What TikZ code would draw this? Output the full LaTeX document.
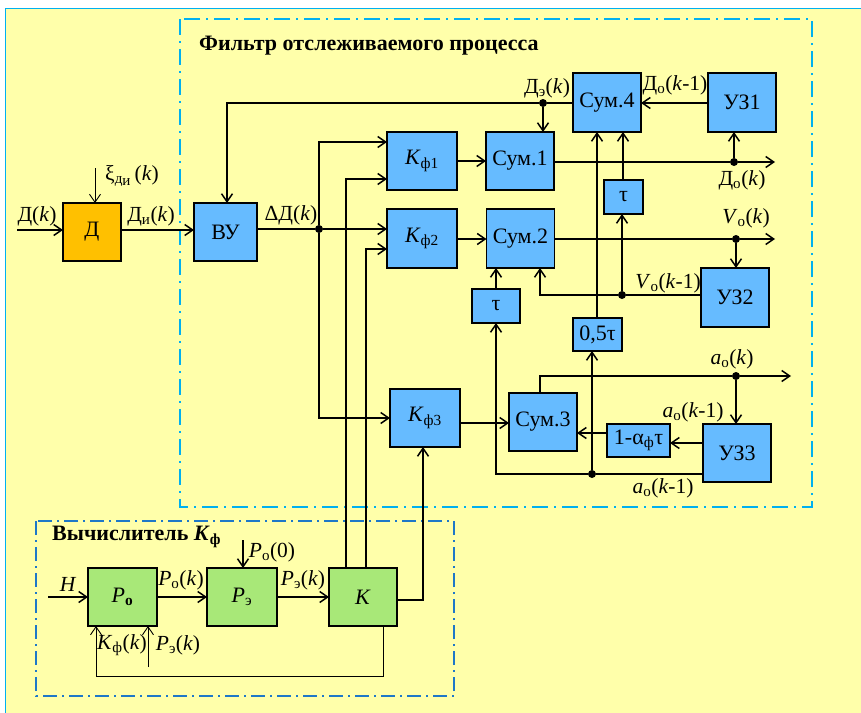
\documentclass[tikz,border=0pt]{standalone}
\usepackage{fontspec}
\setmainfont{Liberation Serif}
\usetikzlibrary{arrows.meta}
\definecolor{bgY}{HTML}{FFFFAA}
\definecolor{blueC}{HTML}{66BBFF}
\definecolor{orangeC}{HTML}{FFC000}
\definecolor{greenC}{HTML}{A8E878}
\definecolor{cyanC}{HTML}{00B0F0}
\definecolor{darkBlueC}{HTML}{1E78C8}
\newcommand{\lsub}[1]{\textsubscript{#1}}
\begin{document}
\begin{tikzpicture}[x=1pt,y=-1pt,
  font=\fontsize{21.5}{25}\selectfont,
  box/.style={draw=black, line width=1.6pt, fill=blueC, inner sep=0pt, outer sep=0pt, font=\fontsize{22}{26}\selectfont},
  wire/.style={line width=1.5pt},
  thinwire/.style={line width=0.9pt},
  arr/.style={-{Straight Barb[length=8pt,width=11pt]}},
  dot/.style={circle, fill=black, inner sep=0pt, minimum size=8pt},
  lbl/.style={inner sep=0pt}
]
\useasboundingbox (0,0) rectangle (861,712);
\fill[white] (0,0) rectangle (861,712);
\fill[bgY] (5,8) rectangle (862,713);
\draw[cyanC, line width=1pt] (5,713) -- (5,8) -- (862,8);

% frames
\draw[cyanC, line width=2pt, dash pattern=on 16pt off 6pt on 2pt off 6pt] (180,19) rectangle (812,507);
\draw[darkBlueC, line width=1.3pt, dash pattern=on 14pt off 5pt on 2pt off 5pt] (36,521) rectangle (454,696);
\node[lbl, anchor=west, font=\fontsize{22}{26}\selectfont\bfseries] (title1) at (199,46) {Фильтр отслеживаемого процесса};
\node[lbl, anchor=west, font=\fontsize{22}{26}\selectfont\bfseries] (title2) at (52,537) {Вычислитель \textit{K}\lsub{ф}};

% blocks
\node[box, fill=orangeC, minimum width=58, minimum height=58] (D) at (92,232) {Д};
\node[box, minimum width=63, minimum height=58] (VU) at (225.5,232) {ВУ};
\node[box, minimum width=70, minimum height=58] (kf1) at (422,161) {\textit{K}\lsub{ф1}};
\node[box, minimum width=70, minimum height=59] (kf2) at (422,238.5) {\textit{K}\lsub{ф2}};
\node[box, minimum width=68, minimum height=58] (s1) at (520,161) {Сум.1};
\node[box, minimum width=68, minimum height=59] (s2) at (520.5,238.5) {Сум.2};
\node[box, minimum width=68, minimum height=59] (s4) at (607,102.5) {Сум.4};
\node[box, minimum width=68, minimum height=59] (uz1) at (742,102.5) {УЗ1};
\node[box, minimum width=39, minimum height=34] (tau1) at (623.5,197) {τ};
\node[box, minimum width=68, minimum height=59] (uz2) at (735,297.5) {УЗ2};
\node[box, minimum width=48, minimum height=34] (tau2) at (496,306) {τ};
\node[box, minimum width=49, minimum height=33] (half) at (597.5,334.5) {0,5τ};
\node[box, minimum width=70, minimum height=58] (kf3) at (425,418) {\textit{K}\lsub{ф3}};
\node[box, minimum width=68, minimum height=58] (s3) at (543,422) {Сум.3};
\node[box, minimum width=68, minimum height=58] (uz3) at (737,453) {УЗ3};
\node[box, minimum width=63, minimum height=33] (af) at (638.5,440.5) {1-α\lsub{ф}τ};
\node[box, fill=greenC, minimum width=69, minimum height=58] (Po) at (122.5,597) {\textit{P}\lsub{\textbf{о}}};
\node[box, fill=greenC, minimum width=70, minimum height=58] (Pe) at (242,597) {\textit{P}\lsub{э}};
\node[box, fill=greenC, minimum width=68, minimum height=58] (K) at (363,597) {\textit{K}};

% junctions
\node[dot] (j1) at (319,229) {};
\node[dot] (j2) at (734,162) {};
\node[dot] (j3) at (736,239) {};
\node[dot] (j4) at (622,295) {};
\node[dot] (j5) at (543,103) {};
\node[dot] (j6) at (736,376) {};
\node[dot] (j7) at (592,474) {};
\coordinate (inD) at (17,230);
\coordinate (xiS) at (95,168);
\coordinate (outS1) at (775,162);
\coordinate (outS2) at (775,239);
\coordinate (outS3) at (791,376);
\coordinate (inH) at (48,597);
\coordinate (inP0) at (243,540);
\coordinate (inPe) at (148,667);

% wires: filter
\draw[wire, arr] (inD) -- (D.west |- 0,230);
\draw[thinwire, arr] (xiS) -- (D.north -| 95,0);
\draw[wire, arr] (D.east |- 0,230) -- (VU.west |- 0,230);
\draw[wire, arr] (VU.east |- 0,229) -- (j1) -- (kf2.west |- 0,229);
\draw[wire, arr] (j1) -- (319,142) -- (kf1.west |- 0,142);
\draw[wire, arr] (j1) -- (319,418) -- (kf3.west);
\draw[wire, arr] (K.north -| 346,0) -- (346,179) -- (kf1.west |- 0,179);
\draw[wire, arr] (K.north -| 366,0) -- (366,249) -- (kf2.west |- 0,249);
\draw[wire, arr] (K.east |- 0,600) -- (423,600) -- (kf3.south -| 423,0);
\draw[wire, arr] (kf1.east) -- (s1.west);
\draw[wire, arr] (kf2.east |- 0,239) -- (s2.west |- 0,239);
\draw[wire, arr] (kf3.east |- 0,423) -- (s3.west |- 0,423);
\draw[wire, arr] (s1.east |- 0,162) -- (j2) -- (outS1);
\draw[wire, arr] (j2) -- (uz1.south -| j2);
\draw[wire, arr] (s2.east |- 0,239) -- (j3) -- (outS2);
\draw[wire, arr] (j3) -- (uz2.north -| j3);
\draw[wire, arr] (uz2.west |- 0,295) -- (j4) -- (540,295) -- (s2.south -| 540,0);
\draw[wire, arr] (j4) -- (tau1.south -| j4);
\draw[wire, arr] (tau1.north -| 623,0) -- (s4.south -| 623,0);
\draw[wire, arr] (half.north -| 597,0) -- (s4.south -| 597,0);
\draw[wire, arr] (s4.west |- 0,103) -- (j5) -- (227,103) -- (VU.north -| 227,0);
\draw[wire, arr] (j5) -- (s1.north -| j5);
\draw[wire, arr] (uz1.west |- 0,103) -- (s4.east |- 0,103);
\draw[wire, arr] (s3.north -| 540,0) -- (540,376) -- (j6) -- (outS3);
\draw[wire, arr] (j6) -- (uz3.north -| j6);
\draw[wire, arr] (uz3.west |- 0,443) -- (af.east |- 0,443);
\draw[wire, arr] (af.west |- 0,433) -- (s3.east |- 0,433);
\draw[wire, arr] (uz3.west |- 0,474) -- (j7) -- (496,474) -- (tau2.south);
\draw[wire, arr] (j7) -- (half.south -| j7);
\draw[wire, arr] (tau2.north) -- (s2.south -| tau2.north);

% wires: calculator
\draw[wire, arr] (inH) -- (Po.west);
\draw[wire, arr] (Po.east) -- (Pe.west);
\draw[wire, arr] (Pe.east) -- (K.west);
\draw[wire, arr] (inP0) -- (Pe.north -| inP0);
\draw[thinwire, arr] (K.south -| 383,0) -- (383,676) -- (96,676) -- (Po.south -| 96,0);
\draw[thinwire, arr] (inPe) -- (Po.south -| inPe);

% labels
\node[lbl] (lDk) at (37,216) {Д(\textit{k})};
\node[lbl] (lxi) at (132,176) {ξ\lsub{д\raisebox{-0.3ex}{и}}\,(\textit{k})};
\node[lbl] (lDi) at (151,216) {Д\lsub{и}(\textit{k})};
\node[lbl] (ldD) at (291,215) {ΔД(\textit{k})};
\node[lbl] (lDe) at (547,88) {Д\lsub{э}(\textit{k})};
\node[lbl] (lDo1) at (675,85) {Д\lsub{о}(\textit{k}-1)};
\node[lbl] (lDo) at (742,180) {Д\lsub{о}(\textit{k})};
\node[lbl] (lVo) at (746,218) {\textit{V}\lsub{о}(\textit{k})};
\node[lbl] (lVo1) at (668,283) {\textit{V}\lsub{о}(\textit{k}-1)};
\node[lbl] (lao) at (732,359) {\textit{a}\lsub{о}(\textit{k})};
\node[lbl] (lao1) at (693,412) {\textit{a}\lsub{о}(\textit{k}-1)};
\node[lbl] (lao2) at (663,488) {\textit{a}\lsub{о}(\textit{k}-1)};
\node[lbl] (lH) at (68,584) {\textit{H}};
\node[lbl] (lPo) at (181,580) {\textit{P}\lsub{о}(\textit{k})};
\node[lbl] (lPe) at (303,580) {\textit{P}\lsub{э}(\textit{k})};
\node[lbl] (lP0) at (272,552) {\textit{P}\lsub{о}(0)};
\node[lbl] (lKf) at (122,645) {\textit{K}\lsub{ф}(\textit{k})};
\node[lbl] (lPek) at (178,645) {\textit{P}\lsub{э}(\textit{k})};
\end{tikzpicture}
\end{document}
